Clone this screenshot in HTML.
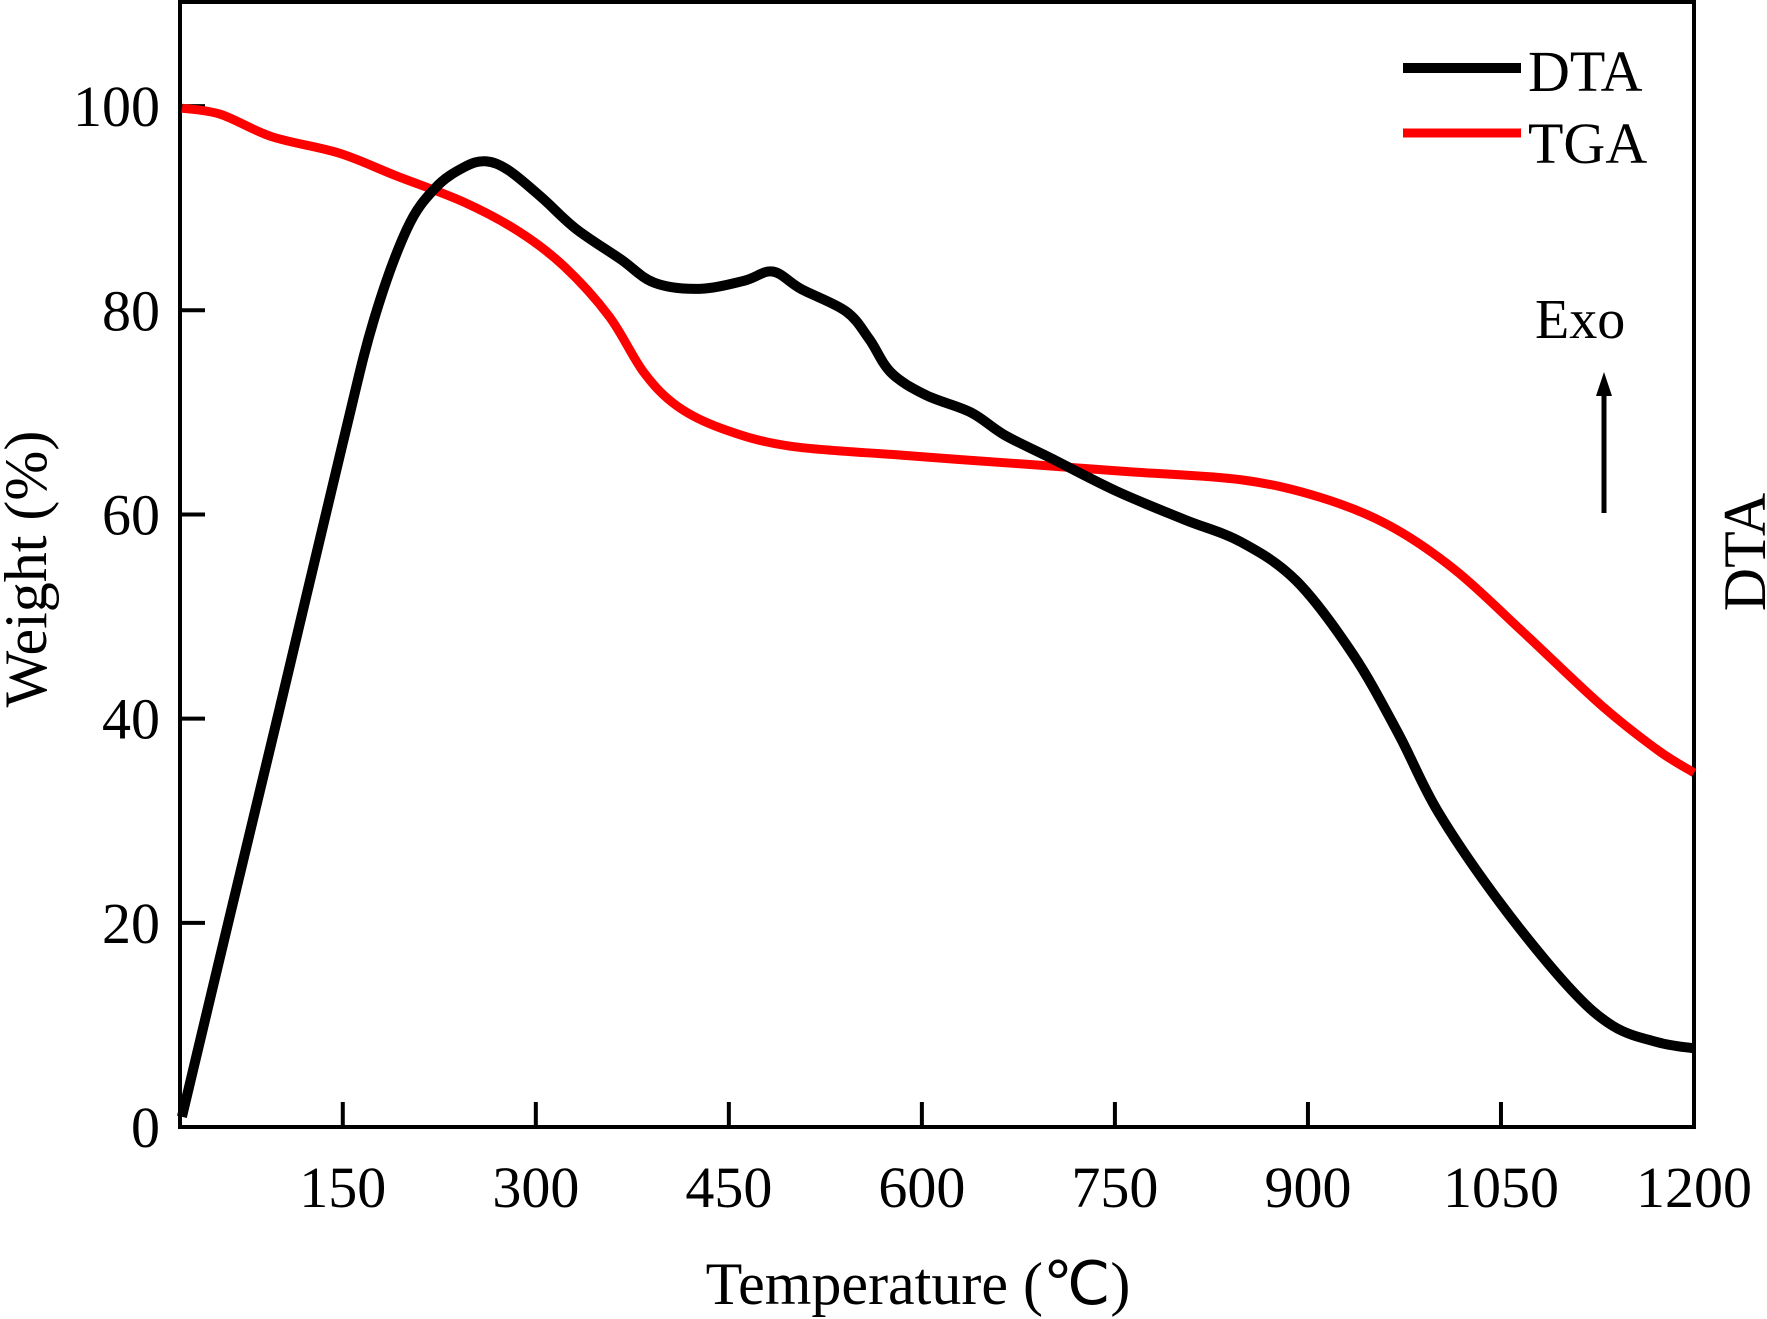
<!DOCTYPE html>
<html><head><meta charset="utf-8"><style>
html,body{margin:0;padding:0;background:#fff;}
svg{display:block;font-family:"Liberation Serif",serif;}
</style></head><body>
<svg id="chart" width="1767" height="1319" viewBox="0 0 1767 1319" xmlns="http://www.w3.org/2000/svg">
<g id="axes"></g>
<g id="series"></g>
<g>
  <line x1="1403" y1="68" x2="1521" y2="68" stroke="#000" stroke-width="10"/>
  <text x="1528" y="91" font-size="58">DTA</text>
  <line x1="1403" y1="133" x2="1521" y2="133" stroke="#f00" stroke-width="9"/>
  <text x="1528" y="163" font-size="58">TGA</text>
</g>
<text x="1535" y="338" font-size="56">Exo</text>
<g>
  <line x1="1604" y1="513" x2="1604" y2="392" stroke="#000" stroke-width="5"/>
  <polygon points="1596,396 1612,396 1604,372" fill="#000"/>
</g>
<text transform="translate(46,569) rotate(-90)" text-anchor="middle" font-size="60">Weight (%)</text>
<text transform="translate(1765,552) rotate(-90)" text-anchor="middle" font-size="60">DTA</text>
<text x="918" y="1304" text-anchor="middle" font-size="60">Temperature (℃)</text>
</svg>
<script>
const xTicks = [150, 300, 450, 600, 750, 900, 1050, 1200];
const yTicks = [0, 20, 40, 60, 80, 100];
const dtaT = [25,60,100,150,174,200,222,244,261,279,305,331,366,392,427,462,484,506,541,559,576,603,638,664,699,751,804,848,891,935,970,1001,1049,1102,1137,1172,1200];
const dtaV = [1,19.5,40.5,67,79,88,92,94,94.6,93.7,91,88,85,82.7,82.1,82.9,83.8,82.1,79.9,77.2,73.9,71.7,70,67.8,65.6,62.3,59.5,57.3,53.5,46.3,38.6,30.9,22,13.8,9.9,8.3,7.7];
const tgaT = [25,55,95,147,191,244,287,322,357,384,410,445,497,585,672,760,848,909,962,1014,1067,1128,1172,1200];
const tgaV = [99.8,99.2,97,95.4,93.2,90.6,87.7,84.3,79.4,73.9,70.6,68.4,66.7,65.8,65,64.2,63.4,61.7,59,54.6,48.5,41.3,36.9,34.7];

const L=180, R=1694, B=1127, T=2;
const xMin=23.5, xMax=1200, yMin=0, yMax=110.2;
const sx = v => L + (v - xMin) / (xMax - xMin) * (R - L);
const sy = v => B - (v - yMin) / (yMax - yMin) * (B - T);
const NS="http://www.w3.org/2000/svg";
function mk(tag, attrs, parent){const e=document.createElementNS(NS,tag);for(const k in attrs)e.setAttribute(k,attrs[k]);parent.appendChild(e);return e;}
const axes=document.getElementById('axes');
const frame=mk('rect',{x:L,y:T,width:R-L,height:B-T,fill:'none',stroke:'#000','stroke-width':4},axes);


xTicks.forEach(t=>{
  const l=mk('line',{x1:sx(t),x2:sx(t),y1:B,y2:B-25,stroke:'#000','stroke-width':4},axes);
  
  
  const tx=mk('text',{x:sx(t),y:B+80,'text-anchor':'middle','font-size':58},axes);
  
  
  tx.textContent=t;
});
yTicks.forEach(t=>{
  if(t>0){
  const l=mk('line',{x1:L,x2:L+25,y1:sy(t),y2:sy(t),stroke:'#000','stroke-width':4},axes);
  
  
  }
  const tx=mk('text',{x:L-20,y:sy(t)+20,'text-anchor':'end','font-size':58},axes);
  
  
  tx.textContent=t;
});
function path(xs,ys){
  const p=xs.map((x,i)=>[sx(x),sy(ys[i])]);
  let d='M'+p[0][0]+','+p[0][1];
  for(let i=0;i<p.length-1;i++){
    const p0=p[Math.max(0,i-1)],p1=p[i],p2=p[i+1],p3=p[Math.min(p.length-1,i+2)];
    const c1x=p1[0]+(p2[0]-p0[0])/6,c1y=p1[1]+(p2[1]-p0[1])/6;
    const c2x=p2[0]-(p3[0]-p1[0])/6,c2y=p2[1]-(p3[1]-p1[1])/6;
    d+=` C${c1x},${c1y} ${c2x},${c2y} ${p2[0]},${p2[1]}`;
  }
  return d;
}
const s=document.getElementById('series');
const tga=mk('path',{d:path(tgaT,tgaV),fill:'none',stroke:'#f00','stroke-width':9,'stroke-linejoin':'round'},s);


const dta=mk('path',{d:path(dtaT,dtaV),fill:'none',stroke:'#000','stroke-width':10,'stroke-linejoin':'round'},s);


</script>
</body></html>
